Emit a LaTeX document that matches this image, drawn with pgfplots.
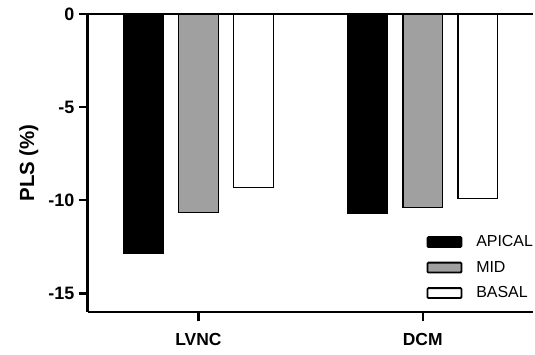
\documentclass[border=0pt]{standalone}
\usepackage{pgfplots}
\pgfplotsset{compat=1.18}
\usepackage{fontspec}
\setmainfont{Liberation Sans}
\definecolor{midgray}{RGB}{160,160,160}
\pgfplotsset{
  mybar/.style={ybar, bar width=0.178, bar shift=0pt, draw=black, line width=1.5pt,
    legend image code/.code={\draw[##1, line width=1.8pt, rounded corners=1pt] (0pt,-5pt) rectangle (34pt,5pt);}},
}
\begin{document}
\begin{tikzpicture}
\begin{axis}[
  name=ax,
  scale only axis, width=447pt, height=299pt,
  xmin=-0.493, xmax=1.493, ymin=-16, ymax=0,
  axis lines*=left,
  axis line style={line width=2.6pt},
  clip=false,
  xtick={0,1}, xticklabels={LVNC,DCM},
  ytick={-15,-10,-5,0}, yticklabels={-15,-10,-5,0},
  tick align=outside, major tick length=9pt,
  tick style={line width=2.4pt, black},
  yticklabel style={font=\bfseries\fontsize{18}{18}\selectfont, xshift=-1pt},
  xticklabel style={font=\bfseries\fontsize{17.5}{17.5}\selectfont, yshift=-9pt},
  ylabel={PLS (\%)},
  ylabel shift=3pt,
  ylabel style={font=\bfseries\fontsize{20.5}{20.5}\selectfont},
  legend style={at={(0.76,0.035)}, anchor=south west, draw=none, fill=none,
    font=\fontsize{16}{16}\selectfont, row sep=9pt, inner sep=0pt,
    /tikz/every odd column/.append style={column sep=12pt}},
  legend cell align=left,
]
\addplot[mybar, fill=black] coordinates {(-0.245,-12.85) (0.755,-10.72)};
\addlegendentry{APICAL}
\addplot[mybar, fill=midgray] coordinates {(0,-10.66) (1,-10.39)};
\addlegendentry{MID}
\addplot[mybar, fill=white] coordinates {(0.245,-9.32) (1.245,-9.9)};
\addlegendentry{BASAL}
\addplot[black, line width=2.6pt, forget plot] coordinates {(-0.493,0) (1.493,0)};
\end{axis}
\path ([xshift=-88pt,yshift=-43pt]ax.south west) rectangle ([yshift=14pt]ax.north east);
\end{tikzpicture}
\end{document}
